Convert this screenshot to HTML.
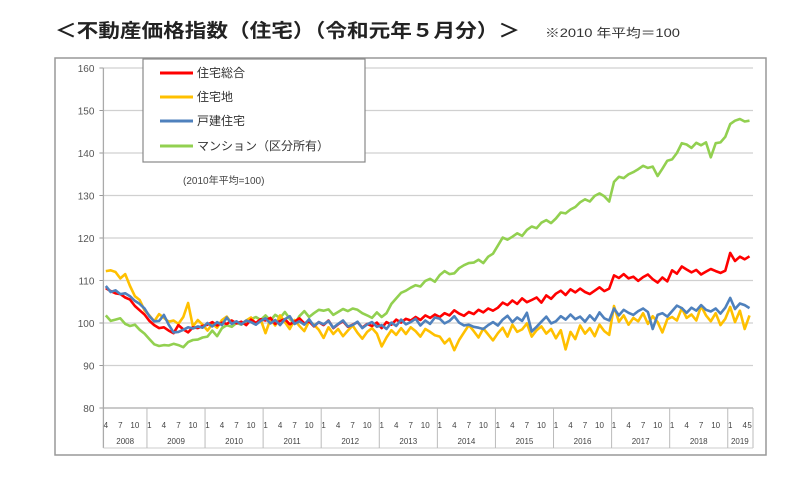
<!DOCTYPE html>
<html><head><meta charset="utf-8">
<style>
body{margin:0;background:#fff;width:800px;height:486px;overflow:hidden;font-family:"Liberation Sans","Noto Sans CJK JP",sans-serif;}
svg{position:absolute;left:0;top:0}
</style></head>
<body>
<svg id="chart" width="800" height="486">
  <text x="55" y="37" font-size="19" font-weight="bold" fill="#222" textLength="465" lengthAdjust="spacingAndGlyphs" font-family="Liberation Sans, Noto Sans CJK JP, sans-serif">＜不動産価格指数（住宅）（令和元年５月分）＞</text>
  <text x="545" y="37" font-size="12" fill="#333" textLength="135" lengthAdjust="spacingAndGlyphs" font-family="Liberation Sans, Noto Sans CJK JP, sans-serif">※2010 年平均＝100</text>
  <rect x="55" y="58" width="711" height="397" fill="#fff" stroke="#999" stroke-width="1.5"/>
  <g id="grid"></g>
  <g id="xaxis"></g>
  <g id="series"></g>
  <g>
    <rect x="143" y="59" width="222" height="103" fill="#fff" stroke="#888" stroke-width="1.2"/>
    <g><line x1="160" y1="73" x2="193" y2="73" stroke="#ff0000" stroke-width="3"/><text x="197" y="77" font-size="12" fill="#333" font-family="Liberation Sans, Noto Sans CJK JP, sans-serif">住宅総合</text></g>
    <g><line x1="160" y1="97" x2="193" y2="97" stroke="#ffc000" stroke-width="3"/><text x="197" y="101" font-size="12" fill="#333" font-family="Liberation Sans, Noto Sans CJK JP, sans-serif">住宅地</text></g>
    <g><line x1="160" y1="121" x2="193" y2="121" stroke="#4f81bd" stroke-width="3"/><text x="197" y="125" font-size="12" fill="#333" font-family="Liberation Sans, Noto Sans CJK JP, sans-serif">戸建住宅</text></g>
    <g><line x1="160" y1="146" x2="193" y2="146" stroke="#92d050" stroke-width="3"/><text x="197" y="150" font-size="12" fill="#333" font-family="Liberation Sans, Noto Sans CJK JP, sans-serif">マンション（区分所有）</text></g>
  </g>
  <text x="183" y="184" font-size="10" fill="#444" font-family="Liberation Sans, Noto Sans CJK JP, sans-serif">(2010年平均=100)</text>
</svg>
<script>
const years = ["2008","2009","2010","2011","2012","2013","2014","2015","2016","2017","2018","2019"];
const yTicks = [80,90,100,110,120,130,140,150,160];
const totalIdx = [108.2,107.5,107,106.8,106,105.5,104,103,102,
100.5,99.5,98.8,99,98.2,97.6,99.5,98.5,97.8,99,98.8,99.3,
99.6,100.2,99.4,100.1,99.8,100.6,99.9,100.3,99.5,100.8,100,100.9,
100.6,101.2,99.8,100.5,100.9,99.7,100.3,101.1,99.9,100.4,99.2,100.2,
99.5,100.6,98.8,99.7,100.4,99.1,99.6,100.2,98.9,99.8,99.3,100.1,
98.8,100.2,99.6,100.8,100.1,101,100.6,101.4,100.7,101.8,101.2,102,
101.4,102.3,101.8,103,102.2,101.7,102.6,102.1,103.1,102.5,103.4,102.9,
103.6,104.8,104.2,105.3,104.5,105.8,104.9,105.4,106,104.8,106.5,105.7,
106.9,107.6,106.6,107.9,107.2,108.1,107.3,106.8,107.6,108.4,107.5,108.1,
111.2,110.6,111.5,110.5,110.9,109.9,110.8,111.4,110.3,109.5,110.7,109.8,
112.4,111.6,113.3,112.6,111.9,112.5,111.4,112.1,112.7,112.2,111.8,112.3,
116.5,114.6,115.6,115,115.7];
const landIdx = [112.2,112.4,112,110.5,111.5,108.7,106.3,105.4,103,
101.8,100.4,102.1,101.2,100.3,100.6,99.8,101.4,104.7,99.2,100.7,99.6,
98.2,99.8,98.9,100.7,101.5,99.9,100.3,99.8,100.6,101.3,99.7,100.8,
97.6,100.9,99.4,101.8,100.2,98.6,100.7,99.3,98.1,100.4,99.6,98.4,
96.5,99,97.4,98.6,96.9,98.2,99.4,97.7,96.3,97.9,98.8,97.5,
94.5,96.6,98.3,97.2,98.8,97.4,99,98.1,96.8,98.6,97.9,97.1,
96.8,95.2,96.3,93.6,96,97.8,99.5,98.1,96.6,98.7,97.3,95.9,
97.6,98.9,96.8,99.6,97.9,98.5,99.9,96.8,98.3,99.2,97.5,98.6,
96.4,98.3,93.8,97.9,96.2,99.4,97.5,98.8,96.9,99.6,98.1,97.2,
104,100.3,101.8,99.6,101.2,100.4,102.3,99.8,101.6,100.2,97.8,100.9,
101.4,100.6,103.5,101.2,102,100.6,104,101.8,100.4,102.3,99.5,101,
103.8,100.2,102.9,98.6,101.8];
const houseIdx = [108.7,107.3,107.7,106.8,107,106.3,105.2,104.5,103.4,
101.6,100.4,100.5,101.9,99.6,97.8,97.9,98.4,99,98.7,99.2,98.9,
100,99.2,100.2,99.5,101.3,99.8,100.4,99.7,100.6,100.2,99.6,100.5,
101.1,99.9,100.7,99.5,100.9,101.6,99.8,100.4,99.6,100.9,99.3,100.2,
99.7,100.5,98.9,99.8,100.6,99.2,99.5,100.3,98.8,99.7,100.2,99.1,
99.5,98.6,100.1,99.3,100.8,99.7,100.2,101,99.4,100.6,99.8,101.3,
101,99.9,100.5,101.6,100.1,99.4,99.6,99.1,98.9,98.6,99.5,100.2,
99.4,100.8,101.7,100.2,101.3,100.5,102.4,98,99.1,100.3,101.5,99.9,
100.4,101.6,100.8,102,100.9,101.5,100.3,101.8,100.6,102.5,101.1,100.6,
103.4,101.8,103.1,102.4,101.9,102.8,103.4,102.6,98.6,101.9,102.3,101.5,
102.8,104.1,103.5,102.4,103.6,102.9,104.2,103.1,102.7,103.4,102.2,103.6,
105.9,103.3,104.6,104.2,103.5];
const condoIdx = [101.8,100.5,100.8,101.1,99.8,99.3,99.6,98.4,97.5,
96.2,95,94.6,94.8,94.7,95.1,94.8,94.3,95.5,96,96.1,96.6,
96.8,98.2,96.9,98.8,99.5,99.1,100,99.6,100.3,100.9,101.4,100.7,
101.8,100.6,101.9,101.2,102.6,101,99.8,101.6,102.8,101.4,102.3,103.1,
102.9,103.2,101.9,102.6,103.3,102.8,103.4,103.1,102.3,101.8,101.2,102.5,
101.4,102.3,104.5,105.8,107.1,107.6,108.3,108.9,108.6,109.9,110.4,109.7,
111.3,112.2,111.5,111.7,112.9,113.6,114.1,114.2,114.9,114.1,115.6,116.3,
118.2,120.1,119.6,120.3,121.1,120.5,121.9,122.7,122.3,123.6,124.2,123.5,
124.6,126,125.8,126.7,127.3,128.4,129.1,128.6,129.9,130.5,129.8,128.6,
133.2,134.4,134.1,135,135.5,136.2,137,136.5,136.8,134.6,136.3,138.2,
138.5,140,142.3,142,141.2,142.4,141.8,142.5,139,142.3,142.5,143.8,
146.8,147.6,148,147.4,147.6];

const NS="http://www.w3.org/2000/svg";
const X0=103.4, MW=4.84, PR=753, Y80=408, YU=4.25;
const xm = m => X0 + (m+0.5)*MW;
const xb = m => X0 + m*MW;
const y = v => Y80 - (v-80)*YU;
function mk(tag, attrs, parent){const e=document.createElementNS(NS,tag);for(const k in attrs)e.setAttribute(k,attrs[k]);parent.appendChild(e);return e;}
const grid=document.getElementById('grid'), xa=document.getElementById('xaxis'), ser=document.getElementById('series');
const F='Liberation Sans, Noto Sans CJK JP, sans-serif';

yTicks.forEach(t=>{
  const g=mk('line',{x1:X0,x2:PR,y1:y(t),y2:y(t),stroke:t===80?'#aaa':'#d0d0d0','stroke-width':1.3},grid);
  
  
  mk('line',{x1:X0-4,x2:X0,y1:y(t),y2:y(t),stroke:'#999'},grid);
  const tx=mk('text',{x:X0-9,y:y(t)+4,'font-size':10,'text-anchor':'end',fill:'#555','font-family':F},grid);
  tx.textContent=t;
  
  
});
const ax=mk('line',{x1:X0,x2:X0,y1:y(160),y2:448,stroke:'#aaa','stroke-width':1.3},grid);


mk('line',{x1:PR,x2:PR,y1:Y80,y2:448,stroke:'#bbb'},xa);
mk('line',{x1:X0,x2:PR,y1:448,y2:448,stroke:'#ccc'},xa);

years.forEach((yr,i)=>{
  const startM = i===0?0:9+12*(i-1);
  const endM = i===0?9:(i===years.length-1?134:9+12*i);
  if(i>0) mk('line',{x1:xb(startM),x2:xb(startM),y1:Y80,y2:448,stroke:'#bbb'},xa);
  const months = i===0?[4,7,10]:(i===years.length-1?[1,4,5]:[1,4,7,10]);
  months.forEach(mo=>{
    const m = i===0?mo-4:startM+mo-1;
    const t=mk('text',{x:xm(m),y:428,'font-size':8,'text-anchor':'middle',fill:'#444','font-family':F},xa);
    t.textContent=mo;
    
    
  });
  const yt=mk('text',{x:(xb(startM)+xb(endM))/2,y:444,'font-size':8,'text-anchor':'middle',fill:'#444','font-family':F},xa);
  yt.textContent=yr;
  
  
});

function drawLine(arr,color,name){
  const p=mk('polyline',{points:arr.map((v,i)=>xm(i).toFixed(1)+','+y(v).toFixed(1)).join(' '),fill:'none',stroke:color,'stroke-width':2.6,'stroke-linejoin':'round'},ser);
  
  
}
drawLine(condoIdx,'#92d050','line-condo');
drawLine(landIdx,'#ffc000','line-residential-land');
drawLine(totalIdx,'#ff0000','line-residential-total');
drawLine(houseIdx,'#4f81bd','line-detached-house');
</script>
</body></html>
